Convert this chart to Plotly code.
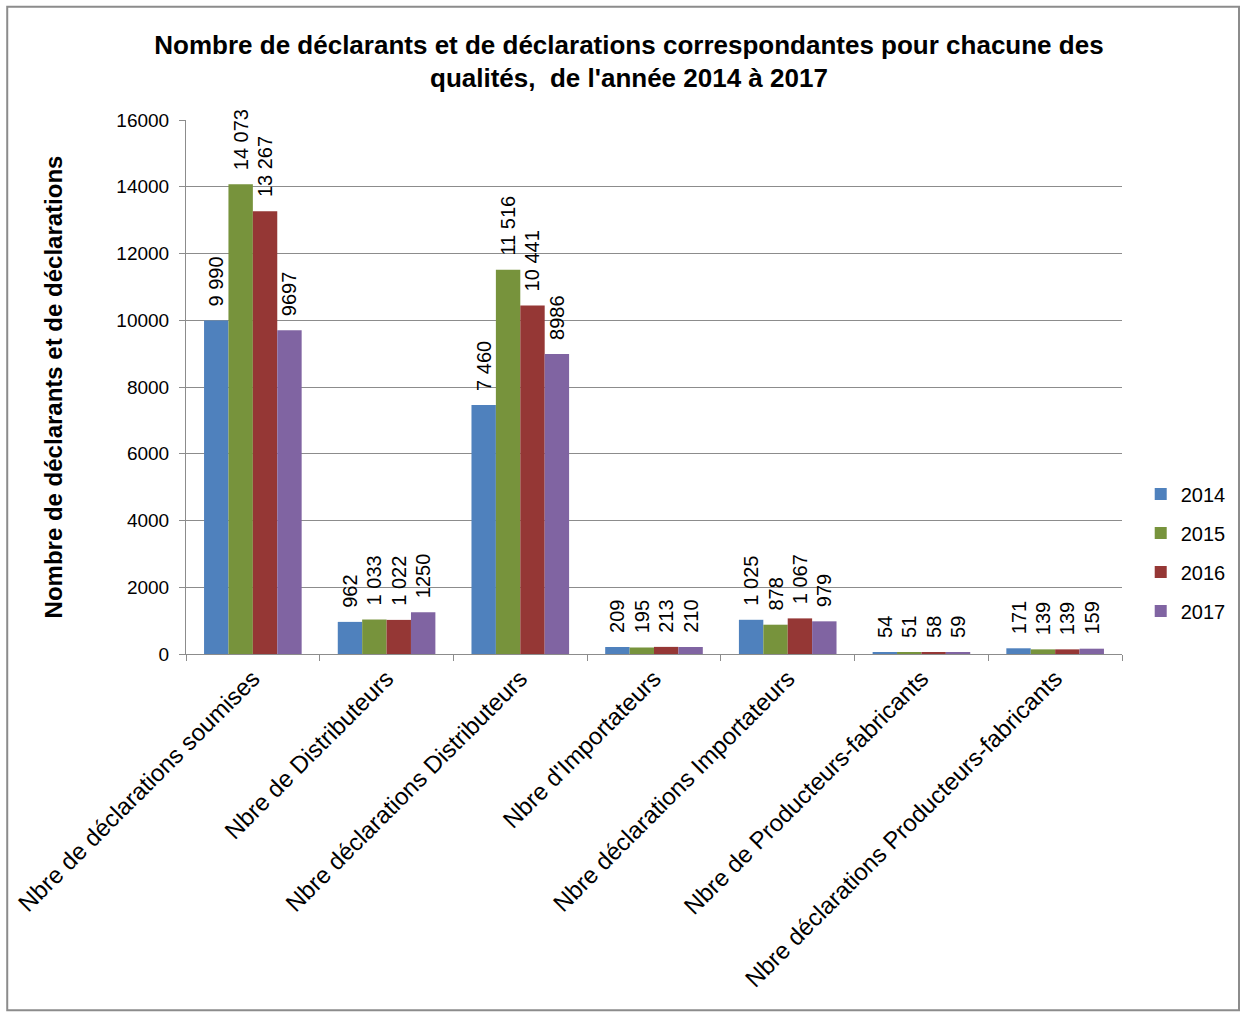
import plotly.graph_objects as go

categories = [
    "Nbre de déclarations soumises",
    "Nbre de Distributeurs",
    "Nbre déclarations Distributeurs",
    "Nbre d'Importateurs",
    "Nbre déclarations Importateurs",
    "Nbre de Producteurs-fabricants",
    "Nbre déclarations Producteurs-fabricants",
]
years = ["2014", "2015", "2016", "2017"]
v2014 = [9990, 962, 7460, 209, 1025, 54, 171]
v2015 = [14073, 1033, 11516, 195, 878, 51, 139]
v2016 = [13267, 1022, 10441, 213, 1067, 58, 139]
v2017 = [9697, 1250, 8986, 210, 979, 59, 159]
t2014 = ["9 990", "962", "7 460", "209", "1 025", "54", "171"]
t2015 = ["14 073", "1 033", "11 516", "195", "878", "51", "139"]
t2016 = ["13 267", "1 022", "10 441", "213", "1 067", "58", "139"]
t2017 = ["9697", "1250", "8986", "210", "979", "59", "159"]
colors = ["#4F81BD", "#77933C", "#953735", "#8064A2"]

series = [v2014, v2015, v2016, v2017]
texts = [t2014, t2015, t2016, t2017]

FONT = "Liberation Sans, Arial, sans-serif"
PAD = "\u00a0\u00a0"

fig = go.Figure()
for i, y in enumerate(years):
    fig.add_trace(go.Bar(
        x=categories, y=series[i], name=y,
        marker=dict(color=colors[i], line=dict(width=0)),
        text=[PAD + t for t in texts[i]], textposition="outside", textangle=-90,
        constraintext="none", cliponaxis=False,
        textfont=dict(family=FONT, size=20, color="#000000"),
        legendgroup=y,
    ))

fig.update_layout(
    width=1244, height=1012,
    paper_bgcolor="white", plot_bgcolor="white",
    barmode="group", bargap=0.27, bargroupgap=0,
    margin=dict(l=186, r=122, t=120, b=358, autoexpand=False),
    title=dict(
        text="<b>Nombre de déclarants et de déclarations correspondantes pour chacune des<br>qualités,  de l'année 2014 à 2017</b>",
        x=0.5056, xanchor="center", xref="container", y=0.947, yanchor="top", yref="container",
        font=dict(family=FONT, size=26, color="#000000"),
    ),
    font=dict(family=FONT, color="#000000"),
    legend=dict(
        x=1.02, xanchor="left", y=0.19, yanchor="middle",
        font=dict(family=FONT, size=20, color="#000000"),
        tracegroupgap=10, itemwidth=30,
    ),
    showlegend=True,
)

fig.update_yaxes(
    range=[0, 16000], dtick=2000, tickformat="d",
    showgrid=True, gridcolor="#8C8C8C", gridwidth=1,
    showline=True, linecolor="#8C8C8C", linewidth=1,
    ticks="outside", ticklen=6, tickcolor="#8C8C8C",
    tickfont=dict(family=FONT, size=19, color="#000000"),
    ticklabelstandoff=6, automargin=False,
    title=dict(text="<b>Nombre de déclarants et de déclarations</b>",
               font=dict(family=FONT, size=24, color="#000000"), standoff=46),
    zeroline=False,
)
fig.update_xaxes(
    showline=True, linecolor="#8C8C8C", linewidth=1,
    ticks="outside", ticklen=6, tickcolor="#8C8C8C", tickson="boundaries",
    tickangle=-45, automargin=False,
    tickfont=dict(family=FONT, size=24, color="#000000"),
    showgrid=False,
)

# outer chart frame
fig.add_shape(type="rect", xref="paper", yref="paper",
              x0=-0.191, x1=1.125, y0=-0.667, y1=1.212,
              line=dict(color="#8C8C8C", width=2), layer="below")

fig.write_html("out.html", config={"displayModeBar": False},
               post_script="document.body.style.margin='0';")
